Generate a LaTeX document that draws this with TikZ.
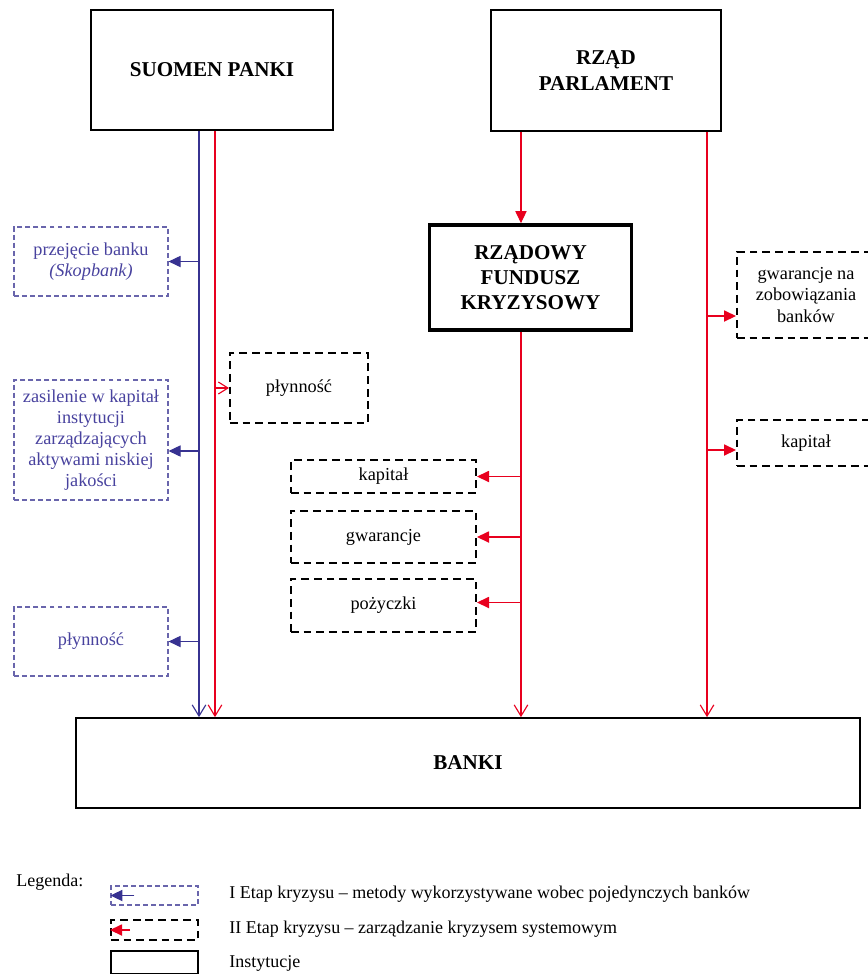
\documentclass[tikz,border=0pt]{standalone}
\usepackage{fontspec}
\setmainfont{Liberation Serif}
\usetikzlibrary{arrows.meta,positioning,calc}
\definecolor{kblue}{RGB}{55,50,145}
\definecolor{kbluetxt}{RGB}{72,66,158}
\definecolor{kred}{RGB}{232,0,30}
\tikzset{
  inst/.style={draw=black, line width=1.2pt, align=center, inner sep=2pt, font=\fontsize{15}{18}\selectfont\bfseries},
  fund/.style={inst, line width=2.6pt},
  etapone/.style={draw=kblue!75, line width=0.8pt, dash pattern=on 3.5pt off 2.2pt, text=kbluetxt, align=center, inner sep=1pt, font=\fontsize{13}{15}\selectfont},
  etaptwo/.style={draw=black, line width=1.4pt, dash pattern=on 5.5pt off 3.5pt, align=center, inner sep=1pt, font=\fontsize{13}{15}\selectfont},
  blueline/.style={draw=kblue, line width=0.8pt, -{Straight Barb[length=2.8mm,width=3.4mm]}},
  redline/.style={draw=kred, line width=0.8pt, -{Straight Barb[length=2.8mm,width=3.4mm]}},
  bluetip/.style={draw=kblue, line width=0.8pt, -{Triangle[length=3mm,width=2.8mm]}},
  redtip/.style={draw=kred, line width=0.8pt, -{Triangle[length=3mm,width=2.8mm]}},
  redopen/.style={draw=kred, line width=0.8pt, -{Straight Barb[length=2.4mm,width=3mm]}},
  legtext/.style={anchor=west, inner sep=0pt, font=\fontsize{12.8}{15}\selectfont},
}
\begin{document}
\begin{tikzpicture}[x=0.025cm, y=-0.025cm]
  \useasboundingbox (0,0) rectangle (868,974);

  % institutions
  \node[inst, minimum width=6.05cm, minimum height=3cm] (sp) at (212,70) {SUOMEN PANKI};
  \node[inst, minimum width=5.75cm, minimum height=3.025cm] (rp) at (606,70.5) {RZĄD\\PARLAMENT};
  \node[fund, minimum width=5.05cm, minimum height=2.625cm] (rfk) at (530.5,277.5) {RZĄDOWY\\FUNDUSZ\\KRYZYSOWY};
  \node[inst, minimum width=19.6cm, minimum height=2.25cm] (banki) at (468,763) {BANKI};

  % stage I (blue)
  \node[etapone, minimum width=3.85cm, minimum height=1.725cm] (przejecie) at (91,261.5) {przejęcie banku\\\textit{(Skopbank)}};
  \node[etapone, minimum width=3.85cm, minimum height=3cm] (zasilenie) at (91,440) {zasilenie w kapitał\\instytucji\\zarządzających\\aktywami niskiej\\jakości};
  \node[etapone, minimum width=3.85cm, minimum height=1.725cm] (plynA) at (91,641.5) {płynność};

  % stage II (black)
  \node[etaptwo, minimum width=3.45cm, minimum height=1.75cm] (plynB) at (299,388) {płynność};
  \node[etaptwo, minimum width=4.625cm, minimum height=0.825cm] (kapA) at (383.5,476.5) {kapitał};
  \node[etaptwo, minimum width=4.625cm, minimum height=1.3cm] (gwar) at (383.5,537) {gwarancje};
  \node[etaptwo, minimum width=4.625cm, minimum height=1.325cm] (pozy) at (383.5,605.5) {pożyczki};
  \node[etaptwo, minimum width=3.45cm, minimum height=2.15cm] (gwzob) at (806,295) {gwarancje na\\zobowiązania\\banków};
  \node[etaptwo, minimum width=3.45cm, minimum height=1.15cm] (kapB) at (806,443) {kapitał};

  % vertical lines
  \coordinate (sb) at ([xshift=-0.325cm]sp.south);
  \coordinate (sr) at ([xshift=0.075cm]sp.south);
  \coordinate (rl) at ([xshift=-2.125cm]rp.south);
  \coordinate (rr) at ([xshift=2.525cm]rp.south);
  \draw[blueline] (sb) -- (sb |- banki.north);
  \draw[redline] (sr) -- (sr |- banki.north);
  \draw[redtip] (rl) -- (rl |- rfk.north);
  \draw[redline] (rl |- rfk.south) -- (rl |- banki.north);
  \draw[redline] (rr) -- (rr |- banki.north);

  % side arrows
  \coordinate (zasE) at ([yshift=-0.275cm]zasilenie.east);
  \coordinate (pozE) at ([yshift=0.075cm]pozy.east);
  \coordinate (gwzW) at ([yshift=-0.525cm]gwzob.west);
  \coordinate (kapW) at ([yshift=-0.175cm]kapB.west);
  \draw[bluetip] (sb |- przejecie.east) -- (przejecie.east);
  \draw[bluetip] (sb |- zasE) -- (zasE);
  \draw[bluetip] (sb |- plynA.east) -- (plynA.east);
  \draw[redopen] (sr |- plynB.west) -- (plynB.west);
  \draw[redtip] (rl |- kapA.east) -- (kapA.east);
  \draw[redtip] (rl |- gwar.east) -- (gwar.east);
  \draw[redtip] (rl |- pozE) -- (pozE);
  \draw[redtip] (rr |- gwzW) -- (gwzW);
  \draw[redtip] (rr |- kapW) -- (kapW);

  % legend
  \node[legtext] (leg) at (16,882) {Legenda:};
  \node[etapone, minimum width=2.175cm, minimum height=0.475cm] (legA) at (154.5,895.5) {};
  \node[etaptwo, minimum width=2.175cm, minimum height=0.5cm] (legB) at (154.5,930) {};
  \node[inst, minimum width=2.175cm, minimum height=0.575cm] (legC) at (154.5,962.5) {};
  \draw[bluetip] ([xshift=0.6cm]legA.west) -- (legA.west);
  \draw[redtip] ([xshift=0.5cm]legB.west) -- (legB.west);
  \node[legtext] (legAt) at (229,894) {I Etap kryzysu – metody wykorzystywane wobec pojedynczych banków};
  \node[legtext] (legBt) at (229,929) {II Etap kryzysu – zarządzanie kryzysem systemowym};
  \node[legtext] (legCt) at (229,963) {Instytucje};
\end{tikzpicture}
\end{document}
